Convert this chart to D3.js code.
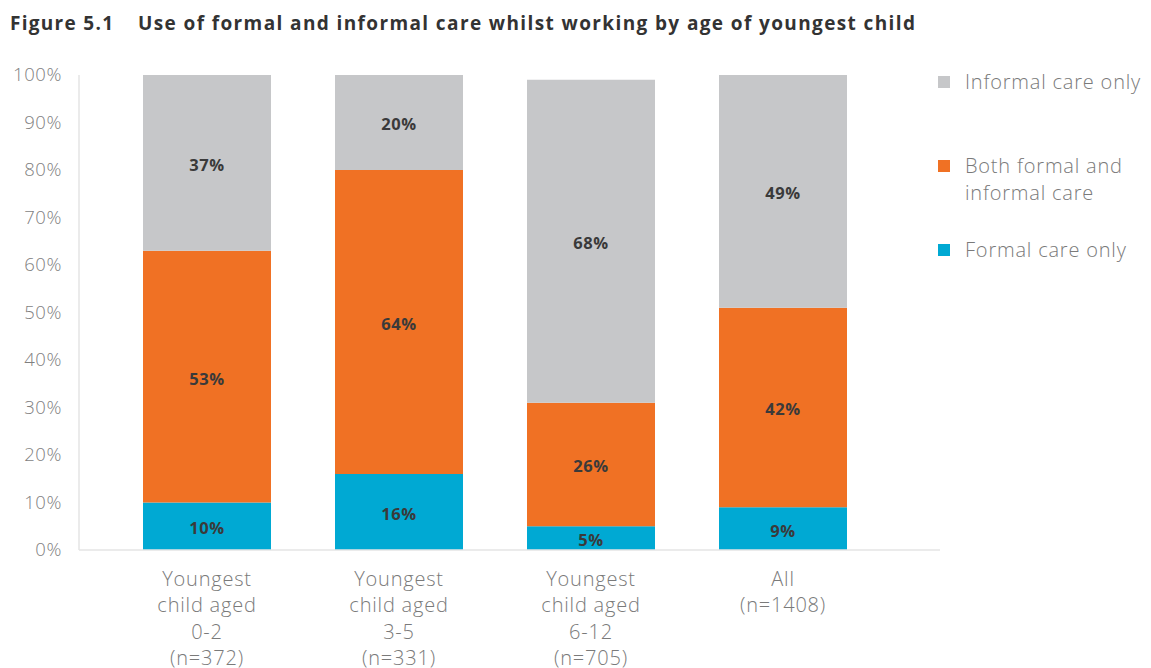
<!DOCTYPE html>
<html>
<head>
<meta charset="utf-8">
<script src="https://cdn.jsdelivr.net/npm/d3@7/dist/d3.min.js"></script>
<style>
  html, body { margin: 0; padding: 0; background: #fff; }
  svg { display: block; }
</style>
</head>
<body>
<svg id="chart" width="1151" height="668"></svg>
<script>
// Care arrangements while working, by age of youngest child (percentages)
const categories = [
  ["Youngest", "child aged", "0-2", "(n=372)"],
  ["Youngest", "child aged", "3-5", "(n=331)"],
  ["Youngest", "child aged", "6-12", "(n=705)"],
  ["All", "(n=1408)"]
];
const formalOnly = [10, 16, 5, 9];
const bothFormalInformal = [53, 64, 26, 42];
const informalOnly = [37, 20, 68, 49];
const seriesNames = ["Formal care only", "Both formal and informal care", "Informal care only"];
const yTicks = [0, 10, 20, 30, 40, 50, 60, 70, 80, 90, 100];

const colors = ["#00a9d3", "#f07124", "#c6c7c9"];
const font = "'Open Sans', sans-serif";

const svg = d3.select("#chart");

// Title: figure number and caption, each fitted to its width
svg.append("text")
  .attr("x", 10).attr("y", 30)
  .attr("font-family", font).attr("font-weight", 700).attr("font-size", 19)
  .attr("fill", "#333")
  .attr("textLength", 103).attr("lengthAdjust", "spacing")
  .text("Figure 5.1");
svg.append("text")
  .attr("x", 138).attr("y", 30)
  .attr("font-family", font).attr("font-weight", 700).attr("font-size", 19)
  .attr("fill", "#333")
  .attr("textLength", 777).attr("lengthAdjust", "spacing")
  .text("Use of formal and informal care whilst working by age of youngest child");

const plotLeft = 79, plotRight = 940, plotTop = 75, plotBottom = 550;

const x = d3.scaleBand()
  .domain(d3.range(categories.length))
  .range([111, 879])
  .paddingInner(1 / 3)
  .paddingOuter(1 / 6);

const y = d3.scaleLinear().domain([0, 100]).range([plotBottom, plotTop]);

// Vertical axis line
svg.append("line")
  .attr("x1", plotLeft).attr("x2", plotLeft)
  .attr("y1", y(100)).attr("y2", plotBottom)
  .attr("stroke", "#e4e4e4").attr("stroke-width", 1.5);

// Y tick labels
const yAxis = d3.axisLeft(y).tickValues(yTicks).tickFormat(d => d + "%").tickSize(0).tickPadding(17);
const yg = svg.append("g").attr("transform", `translate(${plotLeft},0)`).call(yAxis);
yg.select(".domain").remove();
yg.selectAll("text")
  .attr("font-family", font)
  .attr("font-weight", 300)
  .attr("font-size", 18.5)
  .attr("letter-spacing", 0.6)
  .attr("fill", "#7f7f7f");

// Stacked bars
const table = categories.map((c, i) => ({
  i, formal: formalOnly[i], both: bothFormalInformal[i], informal: informalOnly[i]
}));
const stack = d3.stack().keys(["formal", "both", "informal"]);
const layers = stack(table);

const groups = svg.selectAll("g.layer")
  .data(layers).enter().append("g")
  .attr("class", "layer")
  .attr("fill", (d, k) => colors[k]);

groups.selectAll("rect")
  .data(d => d).enter().append("rect")
  .attr("x", d => x(d.data.i))
  .attr("width", x.bandwidth())
  .attr("y", d => y(d[1]))
  .attr("height", d => y(d[0]) - y(d[1]));

groups.selectAll("text")
  .data(d => d).enter().append("text")
  .attr("x", d => x(d.data.i) + x.bandwidth() / 2)
  .attr("y", d => Math.min((y(d[0]) + y(d[1])) / 2 + 2, plotBottom - 10))
  .attr("dy", "0.36em")
  .attr("text-anchor", "middle")
  .attr("font-family", font)
  .attr("font-weight", 700)
  .attr("font-size", 16.5)
  .attr("letter-spacing", 0.6)
  .attr("fill", "#3a3a3a")
  .text(d => (d[1] - d[0]) + "%");

// Baseline
svg.append("line")
  .attr("x1", plotLeft).attr("x2", plotRight)
  .attr("y1", plotBottom).attr("y2", plotBottom)
  .attr("stroke", "#e4e4e4").attr("stroke-width", 1.5);

// Category labels
const xl = svg.selectAll("text.cat")
  .data(categories).enter().append("text")
  .attr("class", "cat")
  .attr("text-anchor", "middle")
  .attr("font-family", font)
  .attr("font-weight", 300)
  .attr("font-size", 20)
  .attr("letter-spacing", 0.8)
  .attr("fill", "#7a7a7a");
xl.each(function(lines, i) {
  d3.select(this).selectAll("tspan")
    .data(lines).enter().append("tspan")
    .attr("x", x(i) + x.bandwidth() / 2)
    .attr("y", (l, j) => 586 + j * 26.3)
    .text(l => l);
});

// Legend
const legendItems = [
  { name: ["Informal care only"], color: colors[2], y: 82 },
  { name: ["Both formal and", "informal care"], color: colors[1], y: 166 },
  { name: ["Formal care only"], color: colors[0], y: 250 }
];
const lg = svg.selectAll("g.legend")
  .data(legendItems).enter().append("g")
  .attr("class", "legend");
lg.append("rect")
  .attr("x", 938).attr("y", d => d.y - 6)
  .attr("width", 12).attr("height", 12)
  .attr("fill", d => d.color);
lg.append("text")
  .attr("font-family", font)
  .attr("font-weight", 300)
  .attr("font-size", 20)
  .attr("letter-spacing", 0.8)
  .attr("fill", "#7a7a7a")
  .each(function(d) {
    d3.select(this).selectAll("tspan")
      .data(d.name).enter().append("tspan")
      .attr("x", 965)
      .attr("y", (l, j) => d.y + 7 + j * 27)
      .text(l => l);
  });
</script>
</body>
</html>
